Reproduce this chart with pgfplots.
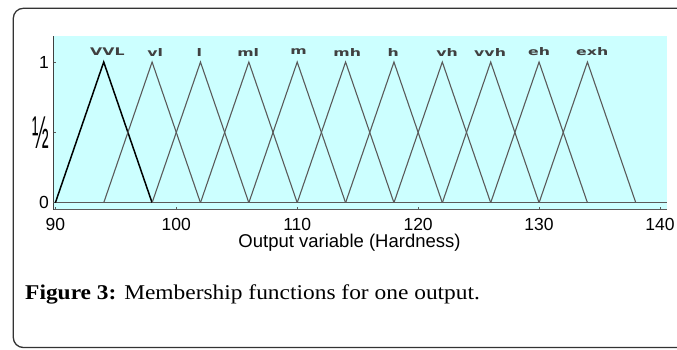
\documentclass[border=0pt]{standalone}
\usepackage{fontspec}
\setmainfont{Liberation Serif}
\newfontfamily\axfont{Liberation Sans}
\newfontfamily\lblfont{DejaVu Sans}
\usepackage{pgfplots}
\pgfplotsset{compat=1.18}
\definecolor{bgcyan}{RGB}{204,255,255}
\definecolor{mfgray}{RGB}{90,90,90}
\begin{document}
\begin{tikzpicture}[x=1pt,y=1pt]
\path[use as bounding box] (0,0) rectangle (677,-349);
\draw[line width=1.3pt, color=black!80, rounded corners=10pt] (13.3,-8.3) rectangle (720,-347.5);
\begin{axis}[
  at={(53.3pt,-209.5pt)}, anchor=south west,
  scale only axis, width=613.7pt, height=173.5pt,
  xmin=89.83, xmax=140.58, ymin=-0.048, ymax=1.185,
  axis background/.style={fill=bgcyan},
  axis x line*=bottom, axis y line*=left,
  x axis line style={-, color=mfgray, line width=1pt},
  y axis line style={-, color=black!75, line width=1pt},
  xtick={90,100,110,120,130,140},
  ytick={0,0.5,1},
  yticklabels={0,{\scalebox{0.5}[1.15]{\fontsize{40}{40}\selectfont ½}},1},
  tick align=inside, major tick length=3pt,
  tick style={color=mfgray, line width=0.6pt},
  ticklabel style={font=\axfont\fontsize{17.5}{17.5}\selectfont},
  /pgf/number format/assume math mode=true,
  xticklabel style={yshift=-5pt},
  yticklabel style={xshift=-1pt},
  xlabel={Output variable (Hardness)},
  xlabel style={font=\axfont\fontsize{18.5}{18.5}\selectfont, at={(axis description cs:0.4827,0)}, anchor=base, yshift=-37.5pt},
  clip=false,
]
\addplot[mfgray, line width=0.9pt] coordinates {(89.83,0) (140.58,0)};
\addplot[black, line width=1.5pt] coordinates {(90,0) (94,1) (98,0)};
\addplot[mfgray, line width=1.1pt] coordinates {(94,0) (98,1) (102,0)};
\addplot[mfgray, line width=1.1pt] coordinates {(98,0) (102,1) (106,0)};
\addplot[mfgray, line width=1.1pt] coordinates {(102,0) (106,1) (110,0)};
\addplot[mfgray, line width=1.1pt] coordinates {(106,0) (110,1) (114,0)};
\addplot[mfgray, line width=1.1pt] coordinates {(110,0) (114,1) (118,0)};
\addplot[mfgray, line width=1.1pt] coordinates {(114,0) (118,1) (122,0)};
\addplot[mfgray, line width=1.1pt] coordinates {(118,0) (122,1) (126,0)};
\addplot[mfgray, line width=1.1pt] coordinates {(122,0) (126,1) (130,0)};
\addplot[mfgray, line width=1.1pt] coordinates {(126,0) (130,1) (134,0)};
\addplot[mfgray, line width=1.1pt] coordinates {(130,0) (134,1) (138,0)};
\addplot[only marks, mark=none, nodes near coords, point meta=explicit symbolic,
  nodes near coords style={font=\lblfont\bfseries\fontsize{10.5}{10.5}\selectfont, text=black!75, anchor=center, xscale=1.5}]
  table[meta=label] {
x y label
94.3 1.071 VVL
98.26 1.071 vl
101.9 1.071 l
105.95 1.071 ml
110.12 1.071 m
114.13 1.071 mh
117.93 1.071 h
122.4 1.071 vh
125.95 1.071 vvh
130 1.071 eh
134.4 1.071 exh
};
\end{axis}
\node[anchor=base west, inner sep=0pt, font=\fontsize{21}{21}\selectfont, xscale=1.115] at (25,-299) {\textbf{Figure 3:} Membership functions for one output.};
\end{tikzpicture}
\end{document}
